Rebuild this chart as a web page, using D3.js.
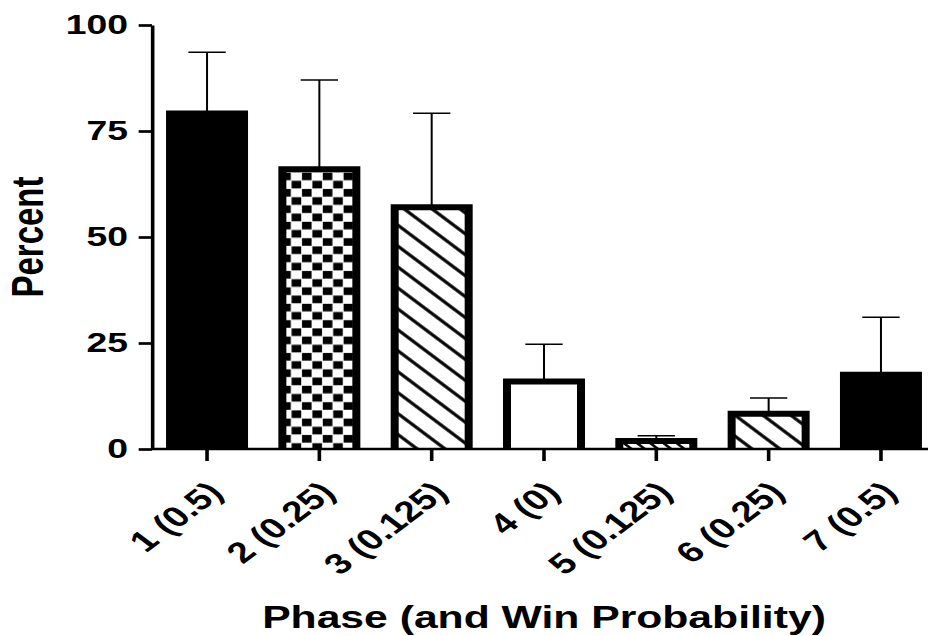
<!DOCTYPE html>
<html>
<head>
<meta charset="utf-8">
<script src="https://cdn.jsdelivr.net/npm/d3@7"></script>
<style>
  html, body { margin: 0; padding: 0; background: #fff; }
  svg { display: block; }
  text { font-family: "Liberation Sans", Arial, Helvetica, sans-serif; font-weight: bold; fill: #000; }
</style>
</head>
<body>
<svg id="chart"></svg>
<script>
// Percent of choices per phase (win probability in brackets), mean and SEM
const phases = ["1 (0.5)", "2 (0.25)", "3 (0.125)", "4 (0)", "5 (0.125)", "6 (0.25)", "7 (0.5)"];
const percentMean = [79.1, 66.0, 57.0, 15.9, 1.9, 8.3, 17.5];
const percentSEM = [14.5, 21.0, 22.2, 8.8, 1.2, 3.7, 13.6];
const yTicks = [0, 25, 50, 75, 100];

const W = 928, H = 636;
const stretchX = 4 / 3;            // drawing is stretched horizontally
const VW = W / stretchX;

const svg = d3.select("#chart")
  .attr("width", W).attr("height", H)
  .attr("viewBox", `0 0 ${VW} ${H}`)
  .attr("preserveAspectRatio", "none");

const plot = { left: 114, right: 702, top: 25, bottom: 449 };

const x = d3.scaleBand().domain(phases)
  .range([plot.left, plot.right])
  .paddingInner(0.27).paddingOuter(0.125);
const y = d3.scaleLinear().domain([0, 100]).range([plot.bottom, plot.top]);

// fill patterns
const defs = svg.append("defs");
const checker = defs.append("pattern").attr("id", "checker")
  .attr("patternUnits", "userSpaceOnUse").attr("width", 15.6).attr("height", 16.4);
checker.append("rect").attr("width", 15.6).attr("height", 16.4).attr("fill", "#fff");
checker.append("rect").attr("x", 0.3).attr("y", 0.4).attr("width", 7.2).attr("height", 7.6).attr("fill", "#000");
checker.append("rect").attr("x", 8.1).attr("y", 8.6).attr("width", 7.2).attr("height", 7.6).attr("fill", "#000");

function hatch(id, gap, sw) {
  const p = defs.append("pattern").attr("id", id)
    .attr("patternUnits", "userSpaceOnUse").attr("width", gap).attr("height", gap)
    .attr("patternTransform", "rotate(45)");
  p.append("rect").attr("width", gap).attr("height", gap).attr("fill", "#fff");
  p.append("line").attr("x1", 0).attr("x2", gap).attr("y1", gap / 2).attr("y2", gap / 2)
    .attr("stroke", "#000").attr("stroke-width", sw);
}
hatch("hatch", 14.8, 2.8);
hatch("hatchFine", 7, 2.2);

const barFills = ["#000", "url(#checker)", "url(#hatch)", "#fff", "url(#hatchFine)", "url(#hatch)", "#000"];

const rows = phases.map((p, i) => ({ phase: p, mean: percentMean[i], sem: percentSEM[i], fill: barFills[i] }));

// error bars (upper only)
const eb = svg.append("g").attr("stroke", "#000").attr("stroke-width", 1.5);
rows.forEach(d => {
  const cx = x(d.phase) + x.bandwidth() / 2;
  eb.append("line").attr("x1", cx).attr("x2", cx).attr("y1", y(d.mean)).attr("y2", y(d.mean + d.sem));
  eb.append("line").attr("x1", cx - 14).attr("x2", cx + 14).attr("y1", y(d.mean + d.sem)).attr("y2", y(d.mean + d.sem));
});

// bars, outlined on three sides
const sw = 6;
svg.append("g").selectAll("path").data(rows).join("path")
  .attr("d", d => {
    const x0 = x(d.phase) + sw / 2, x1 = x(d.phase) + x.bandwidth() - sw / 2;
    return `M${x0},${y(0)}V${y(d.mean)}H${x1}V${y(0)}`;
  })
  .attr("fill", d => d.fill)
  .attr("stroke", "#000").attr("stroke-width", sw);

// axes
const yAxis = svg.append("g").attr("transform", `translate(${plot.left},0)`)
  .call(d3.axisLeft(y).tickValues(yTicks).tickSize(10).tickPadding(8).tickSizeOuter(0));
yAxis.selectAll("path, line").attr("stroke", "#000").attr("stroke-width", 2.7);
yAxis.selectAll("text").attr("font-size", 28).attr("font-family", null);

const xAxis = svg.append("g").attr("transform", `translate(0,${plot.bottom})`)
  .call(d3.axisBottom(x).tickSize(12).tickSizeOuter(0));
xAxis.select(".domain").attr("d", `M${plot.left},0H${VW}`);
xAxis.selectAll("path, line").attr("stroke", "#000").attr("stroke-width", 2.7);
xAxis.selectAll("text")
  .attr("font-size", 29).attr("font-family", null)
  .attr("text-anchor", "end")
  .attr("x", 0).attr("y", 0).attr("dy", "0.35em")
  .attr("transform", "translate(6,38) rotate(-45)");

// axis titles
svg.append("text")
  .attr("transform", `translate(32,${(plot.top + plot.bottom) / 2}) rotate(-90)`)
  .attr("text-anchor", "middle").attr("font-size", 33)
  .text("Percent");

svg.append("text")
  .attr("x", (plot.left + plot.right) / 2).attr("y", 628)
  .attr("text-anchor", "middle").attr("font-size", 32)
  .text("Phase (and Win Probability)");
</script>
</body>
</html>
